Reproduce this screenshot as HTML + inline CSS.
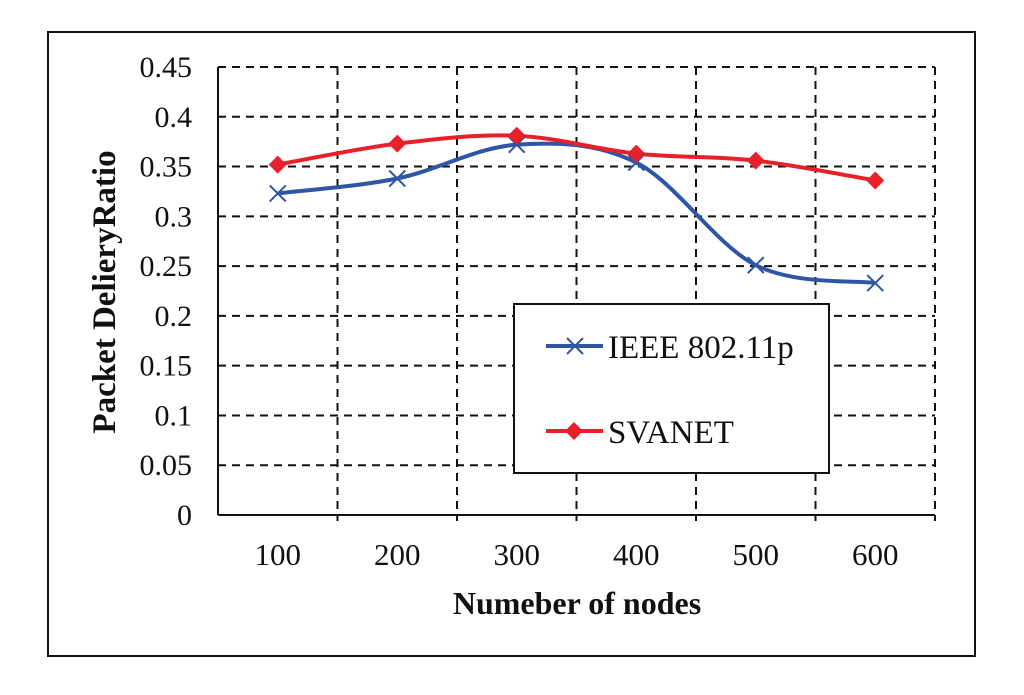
<!DOCTYPE html>
<html><head><meta charset="utf-8"><style>body{margin:0;background:#fff}svg{display:block}text{font-family:"Liberation Serif",serif;fill:#111}</style></head>
<body>
<svg id="c" width="1024" height="695">
<rect x="48" y="32" width="927" height="624" fill="none" stroke="#111" stroke-width="2"/>
<g id="grid"></g><g id="ser"></g>
<text x="0" y="0" transform="translate(115,292) rotate(-90)" text-anchor="middle" font-size="33" font-weight="bold">Packet DelieryRatio</text>
<text x="577" y="614" text-anchor="middle" font-size="32" font-weight="bold">Numeber of nodes</text>
<g>
<rect x="514" y="304" width="315" height="169" fill="#fff" stroke="#111" stroke-width="2"/>
<line x1="546" y1="346" x2="603" y2="346" stroke="#2f55a4" stroke-width="4"/>
<path d="M567,338l16,16M583,338l-16,16" stroke="#2f55a4" stroke-width="2"/>
<text x="608" y="358" font-size="33">IEEE 802.11p</text>
<line x1="546" y1="431" x2="603" y2="431" stroke="#e8202a" stroke-width="4"/>
<path d="M574,422l9,9l-9,9l-9,-9z" fill="#e8202a"/>
<text x="608" y="443" font-size="33">SVANET</text>
</g>
</svg>
<script>
const categories=["100","200","300","400","500","600"];
const ieee=[0.323,0.338,0.372,0.354,0.251,0.233];
const svanet=[0.352,0.373,0.381,0.363,0.356,0.336];
const yTicks=[0,0.05,0.1,0.15,0.2,0.25,0.3,0.35,0.4,0.45];
const yTickLabels=["0","0.05","0.1","0.15","0.2","0.25","0.3","0.35","0.4","0.45"];
const L=218,R=935,T=67,B=515,NS="http://www.w3.org/2000/svg";
const bw=(R-L)/categories.length;
const X=i=>L+bw*(i+0.5), Y=v=>B-(v/0.45)*(B-T);
const g=document.getElementById('grid'),s=document.getElementById('ser');
function mk(tag,a,p){const e=document.createElementNS(NS,tag);for(const k in a)e.setAttribute(k,a[k]);p.appendChild(e);return e;}
yTicks.forEach((v,i)=>{const y=Y(v);
 if(i>0){const l=mk('line',{x1:L,x2:R,y1:y,y2:y,stroke:'#111','stroke-width':2,'stroke-dasharray':'8,6'},g);
 
 }
 const t=mk('text',{x:192,y:y+10,'text-anchor':'end','font-size':30},g);t.textContent=yTickLabels[i];
 
 });
for(let i=1;i<=categories.length;i++){const x=L+bw*i;
 const l=mk('line',{x1:x,x2:x,y1:T,y2:B+6,stroke:'#111','stroke-width':2,'stroke-dasharray':'8,6'},g);
 
 }
categories.forEach((c,i)=>{const t=mk('text',{x:X(i),y:565,'text-anchor':'middle','font-size':31},g);t.textContent=c;
 
 });
mk('line',{x1:L,x2:L,y1:T,y2:B,stroke:'#111','stroke-width':2},g);
mk('line',{x1:L,x2:R,y1:B,y2:B,stroke:'#111','stroke-width':2},g);
function path(vals){const p=vals.map((v,i)=>[X(i),Y(v)]);let d=`M${p[0][0]},${p[0][1]}`;
 for(let i=0;i<p.length-1;i++){const p0=p[i-1]||p[i],p1=p[i],p2=p[i+1],p3=p[i+2]||p2;
 d+=`C${p1[0]+(p2[0]-p0[0])/6},${p1[1]+(p2[1]-p0[1])/6} ${p2[0]-(p3[0]-p1[0])/6},${p2[1]-(p3[1]-p1[1])/6} ${p2[0]},${p2[1]}`;}return d;}
const l1=mk('path',{d:path(ieee),fill:'none',stroke:'#2f55a4','stroke-width':4},s);


const l2=mk('path',{d:path(svanet),fill:'none',stroke:'#e8202a','stroke-width':4},s);


ieee.forEach((v,i)=>{const x=X(i),y=Y(v);const m=mk('path',{d:`M${x-8},${y-8}l16,16M${x+8},${y-8}l-16,16`,stroke:'#2f55a4','stroke-width':2},s);
 
 });
svanet.forEach((v,i)=>{const x=X(i),y=Y(v);const m=mk('path',{d:`M${x},${y-9}l9,9l-9,9l-9,-9z`,fill:'#e8202a'},s);
 
 });
</script>
</body></html>
